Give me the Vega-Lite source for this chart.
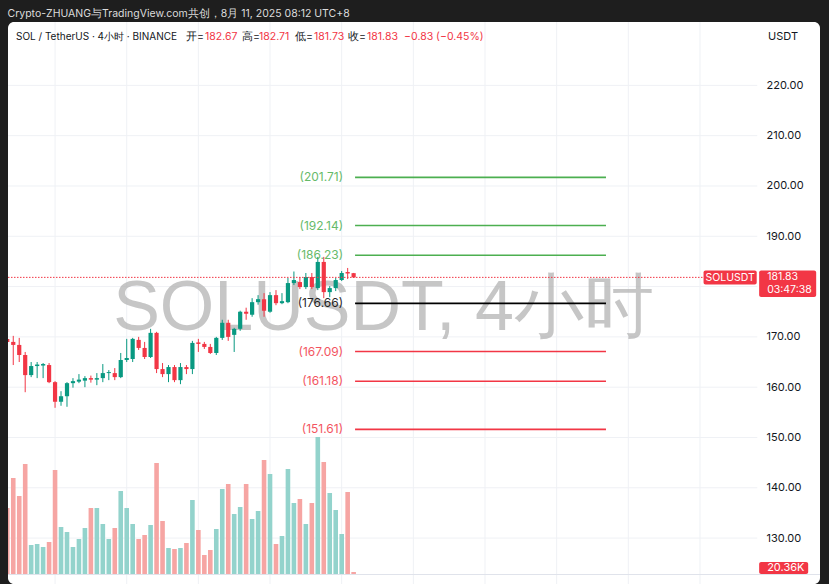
{
  "$schema": "https://vega.github.io/schema/vega-lite/v6.json",
  "width": 812,
  "height": 562,
  "autosize": "none",
  "padding": {"left": 8, "top": 22, "right": 9, "bottom": 0},
  "background": "#1e1e1e",
  "title": {"text": "Crypto-ZHUANG与TradingView.com共创，8月 11, 2025 08:12 UTC+8", "anchor": "start", "color": "#dcdcdc", "fontSize": 10.5, "fontWeight": "normal", "font": "Inter", "offset": 2},
  "config": {"view": {"fill": "#ffffff", "stroke": null, "cornerRadius": 6}, "font": "Inter"},
  "datasets": {
    "candles": [
      {"i":0,"open":169.6,"high":170.0,"low":168.4,"close":169.0,"volume":455.6},
      {"i":1,"open":169.0,"high":170.2,"low":164.4,"close":168.4,"volume":659.6},
      {"i":2,"open":168.4,"high":169.8,"low":165.0,"close":166.4,"volume":537.2},
      {"i":3,"open":166.4,"high":167.0,"low":159.0,"close":162.4,"volume":754.8},
      {"i":4,"open":162.4,"high":165.0,"low":162.0,"close":164.2,"volume":204.0},
      {"i":5,"open":164.2,"high":165.0,"low":161.8,"close":164.5,"volume":210.8},
      {"i":6,"open":164.3,"high":164.8,"low":161.8,"close":164.6,"volume":190.4},
      {"i":7,"open":164.4,"high":164.8,"low":160.8,"close":161.0,"volume":224.4},
      {"i":8,"open":161.0,"high":161.2,"low":155.9,"close":157.1,"volume":714.0},
      {"i":9,"open":157.1,"high":159.2,"low":156.3,"close":158.2,"volume":326.4},
      {"i":10,"open":158.2,"high":161.0,"low":156.1,"close":160.8,"volume":292.4},
      {"i":11,"open":160.8,"high":161.8,"low":159.9,"close":161.2,"volume":190.4},
      {"i":12,"open":161.1,"high":162.6,"low":160.8,"close":161.5,"volume":244.8},
      {"i":13,"open":161.3,"high":162.2,"low":160.0,"close":161.8,"volume":319.6},
      {"i":14,"open":161.8,"high":162.3,"low":160.9,"close":161.5,"volume":455.6},
      {"i":15,"open":161.5,"high":162.8,"low":160.4,"close":161.8,"volume":455.6},
      {"i":16,"open":161.8,"high":164.6,"low":161.0,"close":162.8,"volume":346.8},
      {"i":17,"open":162.8,"high":163.4,"low":161.4,"close":163.0,"volume":244.8},
      {"i":18,"open":162.8,"high":163.8,"low":161.4,"close":162.0,"volume":319.6},
      {"i":19,"open":162.0,"high":166.8,"low":161.8,"close":165.4,"volume":571.2},
      {"i":20,"open":165.4,"high":169.6,"low":165.0,"close":165.8,"volume":455.6},
      {"i":21,"open":165.6,"high":169.8,"low":165.0,"close":169.6,"volume":346.8},
      {"i":22,"open":169.4,"high":170.0,"low":167.4,"close":167.8,"volume":244.8},
      {"i":23,"open":167.8,"high":169.0,"low":165.6,"close":166.0,"volume":272.0},
      {"i":24,"open":166.0,"high":171.6,"low":165.8,"close":170.8,"volume":340.0},
      {"i":25,"open":170.8,"high":171.0,"low":162.8,"close":163.6,"volume":761.6},
      {"i":26,"open":163.6,"high":164.8,"low":162.0,"close":162.6,"volume":367.2},
      {"i":27,"open":162.6,"high":164.4,"low":161.0,"close":164.0,"volume":183.6},
      {"i":28,"open":164.0,"high":164.4,"low":161.0,"close":161.4,"volume":176.8},
      {"i":29,"open":161.4,"high":164.8,"low":160.6,"close":164.0,"volume":183.6},
      {"i":30,"open":164.0,"high":164.4,"low":162.6,"close":163.6,"volume":217.6},
      {"i":31,"open":163.6,"high":169.2,"low":162.6,"close":168.8,"volume":510.0},
      {"i":32,"open":168.9,"high":169.6,"low":167.0,"close":168.6,"volume":306.0},
      {"i":33,"open":168.6,"high":169.0,"low":167.6,"close":168.0,"volume":136.0},
      {"i":34,"open":168.0,"high":168.6,"low":166.6,"close":166.8,"volume":170.0},
      {"i":35,"open":166.8,"high":170.0,"low":166.4,"close":169.8,"volume":312.8},
      {"i":36,"open":169.8,"high":173.4,"low":169.4,"close":172.8,"volume":584.8},
      {"i":37,"open":172.8,"high":173.4,"low":169.2,"close":170.0,"volume":618.8},
      {"i":38,"open":170.4,"high":171.8,"low":167.0,"close":171.6,"volume":414.8},
      {"i":39,"open":171.6,"high":175.2,"low":171.2,"close":175.0,"volume":462.4},
      {"i":40,"open":175.0,"high":175.8,"low":173.4,"close":174.6,"volume":618.8},
      {"i":41,"open":174.4,"high":177.7,"low":174.0,"close":176.9,"volume":380.8},
      {"i":42,"open":176.9,"high":178.3,"low":176.4,"close":177.5,"volume":435.2},
      {"i":43,"open":177.5,"high":178.7,"low":174.0,"close":175.2,"volume":782.0},
      {"i":44,"open":175.0,"high":178.9,"low":174.8,"close":178.3,"volume":686.8},
      {"i":45,"open":178.3,"high":179.3,"low":176.3,"close":176.7,"volume":210.8},
      {"i":46,"open":176.7,"high":178.7,"low":176.5,"close":177.1,"volume":265.2},
      {"i":47,"open":176.9,"high":181.7,"low":176.7,"close":180.7,"volume":720.8},
      {"i":48,"open":180.7,"high":183.0,"low":180.3,"close":181.3,"volume":489.6},
      {"i":49,"open":180.9,"high":181.9,"low":179.5,"close":179.9,"volume":516.8},
      {"i":50,"open":179.9,"high":182.7,"low":179.5,"close":181.9,"volume":346.8},
      {"i":51,"open":181.9,"high":182.7,"low":179.5,"close":179.9,"volume":489.6},
      {"i":52,"open":179.7,"high":185.9,"low":179.3,"close":184.9,"volume":938.4},
      {"i":53,"open":184.9,"high":185.9,"low":177.7,"close":178.9,"volume":768.4},
      {"i":54,"open":178.9,"high":180.1,"low":177.9,"close":179.7,"volume":557.6},
      {"i":55,"open":179.7,"high":181.7,"low":179.1,"close":181.3,"volume":442.0},
      {"i":56,"open":181.3,"high":183.1,"low":181.1,"close":182.7,"volume":278.8},
      {"i":57,"open":182.9,"high":183.7,"low":181.5,"close":182.6,"volume":564.4},
      {"i":58,"open":182.67,"high":182.71,"low":181.73,"close":181.83,"volume":20.36}
    ],
    "fib": [
      {"level":201.71,"label":"(201.71)","kind":"up"},
      {"level":192.14,"label":"(192.14)","kind":"up"},
      {"level":186.23,"label":"(186.23)","kind":"up"},
      {"level":176.66,"label":"(176.66)","kind":"mid"},
      {"level":167.09,"label":"(167.09)","kind":"down"},
      {"level":161.18,"label":"(161.18)","kind":"down"},
      {"level":151.61,"label":"(151.61)","kind":"down"}
    ],
    "hgrid": [{"p":130},{"p":140},{"p":150},{"p":160},{"p":170},{"p":180},{"p":190},{"p":200},{"p":210},{"p":220}],
    "vgrid": [{"i":8},{"i":20},{"i":32},{"i":44},{"i":56},{"i":68},{"i":80},{"i":92},{"i":104},{"i":116}]
  },
  "layer": [
    {
      "layer": [
        {
          "data": {"name": "vgrid"},
          "mark": {"type": "rule", "color": "#eff1f5", "strokeWidth": 1},
          "encoding": {"x": {"field": "i", "type": "quantitative", "scale": {"domain": [0.12, 136.1], "nice": false, "zero": false, "padding": 0}, "axis": null}}
        },
        {
          "data": {"name": "hgrid"},
          "mark": {"type": "rule", "color": "#eff1f5", "strokeWidth": 1},
          "encoding": {
            "y": {"field": "p", "type": "quantitative", "scale": {"domain": [120.87, 232.6], "nice": false, "zero": false, "padding": 0}, "axis": null},
            "x": {"datum": 0.12, "type": "quantitative", "axis": null},
            "x2": {"datum": 125.6}
          }
        },
        {
          "data": {"values": [{}]},
          "mark": {"type": "text", "font": "Liberation Sans", "fontSize": 70, "color": "#b3b3b3", "opacity": 0.75, "align": "center", "baseline": "alphabetic"},
          "encoding": {
            "x": {"datum": 63.0, "type": "quantitative", "axis": null},
            "y": {"datum": 171.37, "type": "quantitative", "axis": null},
            "text": {"value": "SOLUSDT, 4小时"}
          }
        }
      ]
    },
    {
      "data": {"name": "candles"},
      "mark": {"type": "bar", "size": 4.6, "clip": true},
      "encoding": {
        "x": {"field": "i", "type": "quantitative", "axis": null},
        "y": {"field": "volume", "type": "quantitative", "scale": {"domain": [-61.2, 3760.4], "nice": false, "zero": false, "padding": 0}, "axis": null},
        "y2": {"datum": 0},
        "color": {"condition": {"test": "datum.close < datum.open", "value": "#f6a5a3"}, "value": "#93d3cc"}
      }
    },
    {
      "layer": [
        {
          "data": {"values": [{}]},
          "mark": {"type": "rule", "color": "#e0e3eb", "strokeWidth": 1},
          "encoding": {"y": {"datum": 122.76, "type": "quantitative", "scale": {"domain": [120.87, 232.6], "nice": false, "zero": false, "padding": 0}, "axis": {"orient": "right", "offset": -63, "values": [130,140,150,160,170,190,200,210,220], "format": ".2f", "labelAlign": "left", "labelPadding": 9, "ticks": false, "domain": false, "grid": false, "labelFontSize": 11, "labelColor": "#131722", "labelFont": "Inter", "title": null}}}
        },
        {
          "data": {"name": "candles"},
          "mark": {"type": "rule", "strokeWidth": 1, "clip": true},
          "encoding": {
            "x": {"field": "i", "type": "quantitative", "axis": null},
            "y": {"field": "low", "type": "quantitative"},
            "y2": {"field": "high"},
            "color": {"condition": {"test": "datum.close < datum.open", "value": "#f23645"}, "value": "#089981"}
          }
        },
        {
          "data": {"name": "candles"},
          "mark": {"type": "bar", "size": 4.2, "clip": true},
          "encoding": {
            "x": {"field": "i", "type": "quantitative", "axis": null},
            "y": {"field": "open", "type": "quantitative"},
            "y2": {"field": "close"},
            "color": {"condition": {"test": "datum.close < datum.open", "value": "#f23645"}, "value": "#089981"}
          }
        },
        {
          "data": {"values": [{}]},
          "mark": {"type": "rule", "color": "#f23645", "strokeWidth": 1, "strokeDash": [1.5, 1.5]},
          "encoding": {"y": {"datum": 181.83, "type": "quantitative"}, "x": {"datum": 0.12, "type": "quantitative", "axis": null}, "x2": {"datum": 116.5}}
        },
        {
          "data": {"name": "fib"},
          "mark": {"type": "rule", "strokeWidth": 1.6},
          "encoding": {
            "y": {"field": "level", "type": "quantitative"},
            "x": {"datum": 58.24, "type": "quantitative", "axis": null},
            "x2": {"datum": 100.26},
            "color": {"field": "kind", "type": "nominal", "scale": {"domain": ["up", "mid", "down"], "range": ["#4caf50", "#000000", "#f23645"]}, "legend": null}
          }
        },
        {
          "data": {"name": "fib"},
          "mark": {"type": "text", "align": "right", "baseline": "middle", "fontSize": 12, "opacity": 0.85},
          "encoding": {
            "y": {"field": "level", "type": "quantitative"},
            "x": {"datum": 56.23, "type": "quantitative", "axis": null},
            "text": {"field": "label"},
            "color": {"field": "kind", "type": "nominal", "legend": null}
          }
        },
        {
          "data": {"values": [{}]},
          "mark": {"type": "rect", "color": "#f23645", "cornerRadius": 2},
          "encoding": {"x": {"datum": 116.6, "type": "quantitative", "axis": null}, "x2": {"datum": 125.5}, "y": {"datum": 183.2, "type": "quantitative"}, "y2": {"datum": 180.4}}
        },
        {
          "data": {"values": [{}]},
          "mark": {"type": "rect", "color": "#f23645", "cornerRadius": 2},
          "encoding": {"x": {"datum": 125.91, "type": "quantitative", "axis": null}, "x2": {"datum": 135.46}, "y": {"datum": 183.2, "type": "quantitative"}, "y2": {"datum": 177.93}}
        },
        {
          "data": {"values": [{}]},
          "mark": {"type": "rect", "color": "#f23645", "cornerRadius": 2},
          "encoding": {"x": {"datum": 125.91, "type": "quantitative", "axis": null}, "x2": {"datum": 134.12}, "y": {"datum": 125.25, "type": "quantitative"}, "y2": {"datum": 122.86}}
        },
        {
          "data": {"values": [{}]},
          "mark": {"type": "text", "color": "#ffffff", "fontSize": 10.5, "align": "center", "baseline": "middle"},
          "encoding": {"x": {"datum": 121.05, "type": "quantitative", "axis": null}, "y": {"datum": 181.8, "type": "quantitative"}, "text": {"value": "SOLUSDT"}}
        },
        {
          "data": {"values": [{}]},
          "mark": {"type": "text", "color": "#ffffff", "fontSize": 10.5, "align": "left", "baseline": "middle"},
          "encoding": {"x": {"datum": 127.25, "type": "quantitative", "axis": null}, "y": {"datum": 181.85, "type": "quantitative"}, "text": {"value": "181.83"}}
        },
        {
          "data": {"values": [{}]},
          "mark": {"type": "text", "color": "#ffffff", "fontSize": 10.5, "align": "left", "baseline": "middle"},
          "encoding": {"x": {"datum": 127.25, "type": "quantitative", "axis": null}, "y": {"datum": 179.3, "type": "quantitative"}, "text": {"value": "03:47:38"}}
        },
        {
          "data": {"values": [{}]},
          "mark": {"type": "text", "color": "#ffffff", "fontSize": 11, "align": "left", "baseline": "middle"},
          "encoding": {"x": {"datum": 127.25, "type": "quantitative", "axis": null}, "y": {"datum": 124.06, "type": "quantitative"}, "text": {"value": "20.36K"}}
        },
        {
          "data": {"values": [{}]},
          "mark": {"type": "text", "color": "#131722", "fontSize": 11, "align": "left", "baseline": "middle"},
          "encoding": {"x": {"datum": 127.4, "type": "quantitative", "axis": null}, "y": {"datum": 229.62, "type": "quantitative"}, "text": {"value": "USDT"}}
        },
        {
          "data": {"values": [{}]},
          "mark": {"type": "text", "color": "#131722", "fontSize": 10, "align": "left", "baseline": "middle"},
          "encoding": {"x": {"datum": 1.46, "type": "quantitative", "axis": null}, "y": {"datum": 229.62, "type": "quantitative"}, "text": {"value": "SOL / TetherUS · 4小时 · BINANCE"}}
        },
        {
          "data": {"values": [{}]},
          "mark": {"type": "text", "color": "#131722", "fontSize": 10.5, "align": "left", "baseline": "middle"},
          "encoding": {"x": {"datum": 29.93, "type": "quantitative", "axis": null}, "y": {"datum": 229.62, "type": "quantitative"}, "text": {"value": "开="}}
        },
        {
          "data": {"values": [{}]},
          "mark": {"type": "text", "color": "#f23645", "fontSize": 10.5, "align": "left", "baseline": "middle"},
          "encoding": {"x": {"datum": 33.12, "type": "quantitative", "axis": null}, "y": {"datum": 229.62, "type": "quantitative"}, "text": {"value": "182.67"}}
        },
        {
          "data": {"values": [{}]},
          "mark": {"type": "text", "color": "#131722", "fontSize": 10.5, "align": "left", "baseline": "middle"},
          "encoding": {"x": {"datum": 39.31, "type": "quantitative", "axis": null}, "y": {"datum": 229.62, "type": "quantitative"}, "text": {"value": "高="}}
        },
        {
          "data": {"values": [{}]},
          "mark": {"type": "text", "color": "#f23645", "fontSize": 10.5, "align": "left", "baseline": "middle"},
          "encoding": {"x": {"datum": 42.16, "type": "quantitative", "axis": null}, "y": {"datum": 229.62, "type": "quantitative"}, "text": {"value": "182.71"}}
        },
        {
          "data": {"values": [{}]},
          "mark": {"type": "text", "color": "#131722", "fontSize": 10.5, "align": "left", "baseline": "middle"},
          "encoding": {"x": {"datum": 48.19, "type": "quantitative", "axis": null}, "y": {"datum": 229.62, "type": "quantitative"}, "text": {"value": "低="}}
        },
        {
          "data": {"values": [{}]},
          "mark": {"type": "text", "color": "#f23645", "fontSize": 10.5, "align": "left", "baseline": "middle"},
          "encoding": {"x": {"datum": 51.37, "type": "quantitative", "axis": null}, "y": {"datum": 229.62, "type": "quantitative"}, "text": {"value": "181.73"}}
        },
        {
          "data": {"values": [{}]},
          "mark": {"type": "text", "color": "#131722", "fontSize": 10.5, "align": "left", "baseline": "middle"},
          "encoding": {"x": {"datum": 57.07, "type": "quantitative", "axis": null}, "y": {"datum": 229.62, "type": "quantitative"}, "text": {"value": "收="}}
        },
        {
          "data": {"values": [{}]},
          "mark": {"type": "text", "color": "#f23645", "fontSize": 10.5, "align": "left", "baseline": "middle"},
          "encoding": {"x": {"datum": 60.25, "type": "quantitative", "axis": null}, "y": {"datum": 229.62, "type": "quantitative"}, "text": {"value": "181.83"}}
        },
        {
          "data": {"values": [{}]},
          "mark": {"type": "text", "color": "#f23645", "fontSize": 10.5, "align": "left", "baseline": "middle"},
          "encoding": {"x": {"datum": 66.45, "type": "quantitative", "axis": null}, "y": {"datum": 229.62, "type": "quantitative"}, "text": {"value": "−0.83 (−0.45%)"}}
        }
      ]
    }
  ],
  "resolve": {"scale": {"y": "independent"}}
}
